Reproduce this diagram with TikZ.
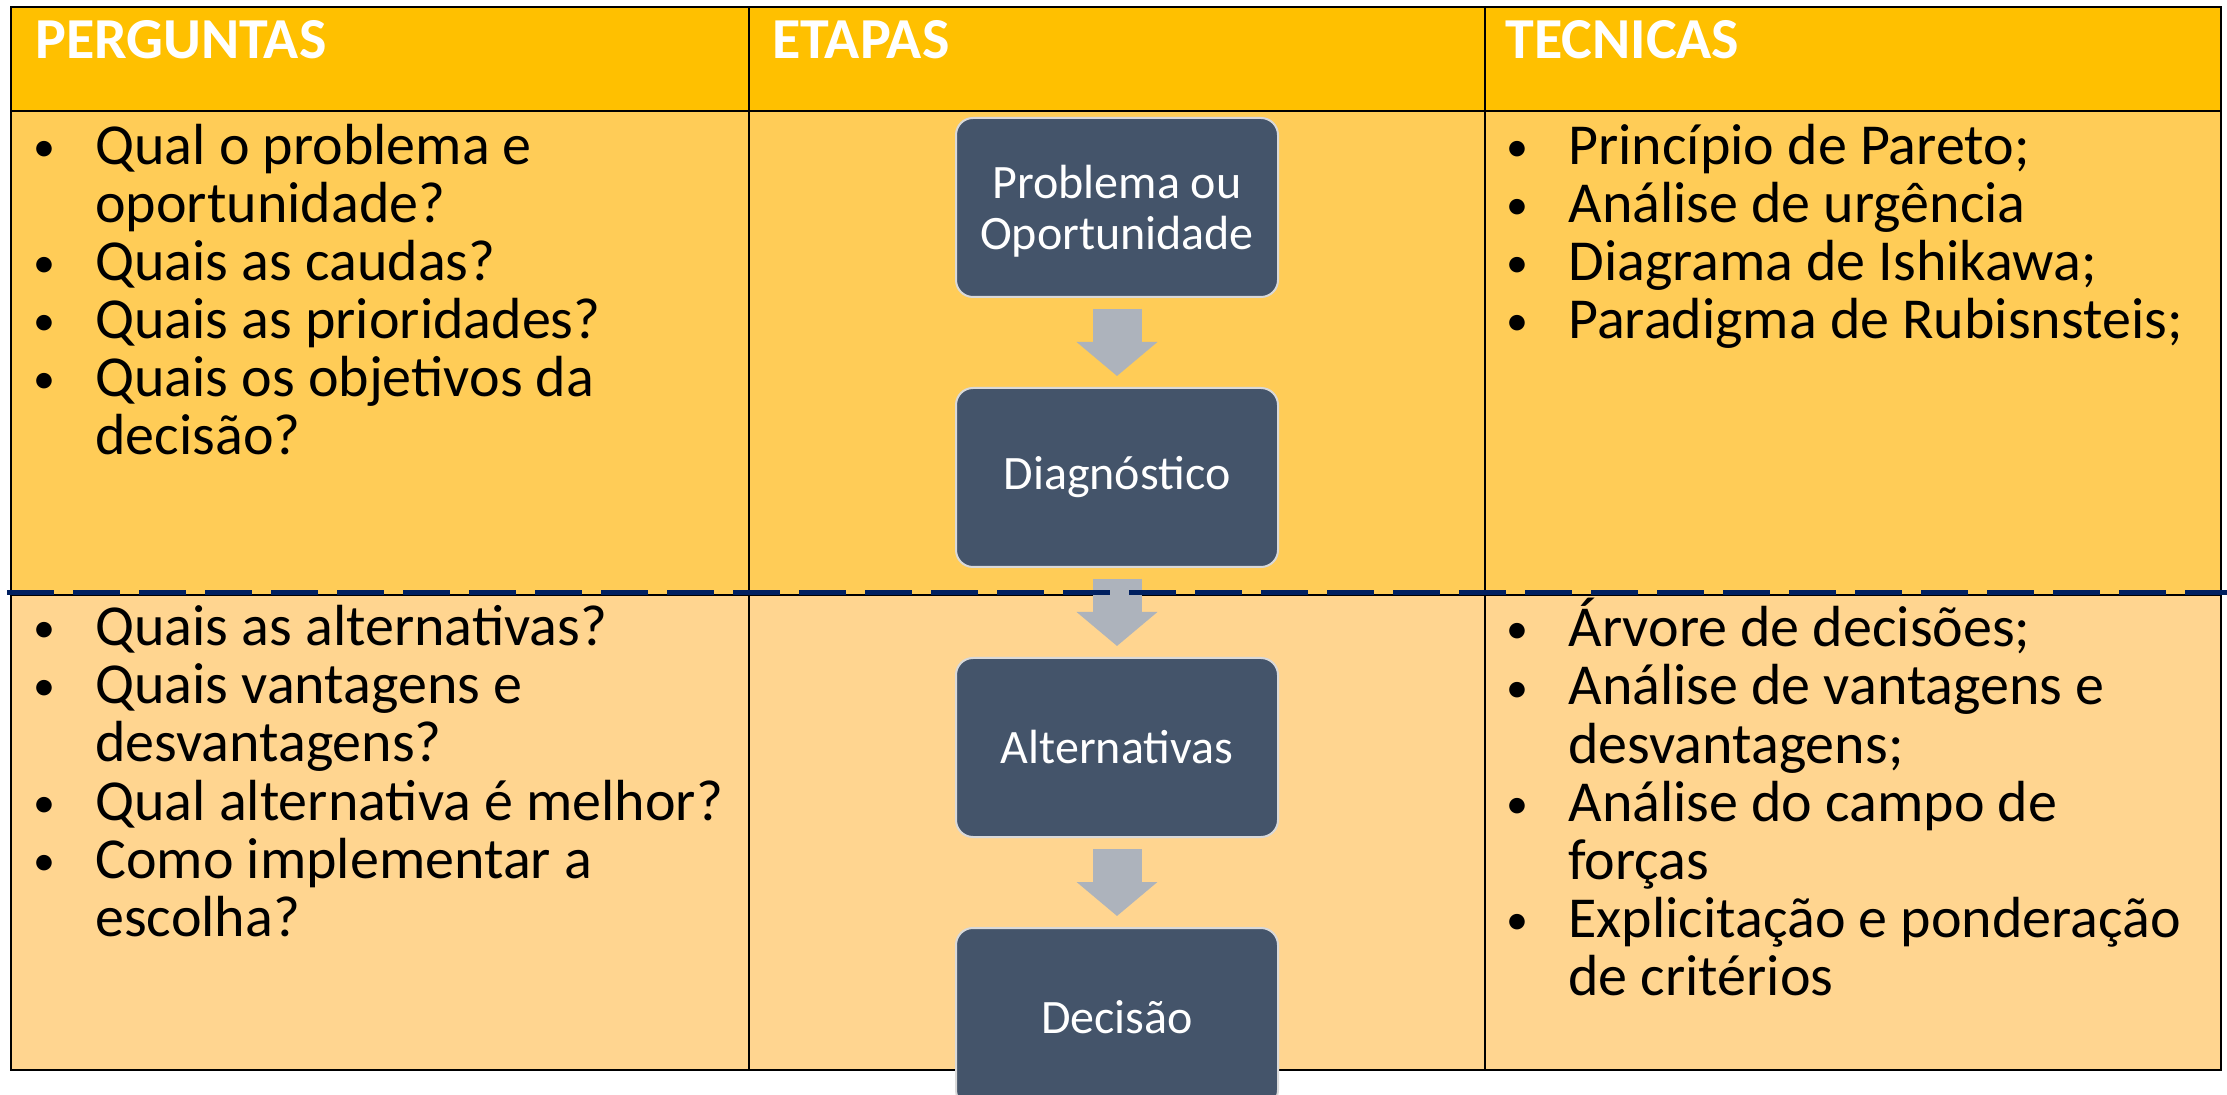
\documentclass[tikz,border=0pt]{standalone}
\usepackage{fontspec}
\setmainfont{Carlito}
\usetikzlibrary{positioning,arrows.meta}
\definecolor{hdrgold}{HTML}{FFC000}
\definecolor{rowtop}{HTML}{FFCC57}
\definecolor{rowbot}{HTML}{FFD590}
\definecolor{stepfill}{HTML}{44546A}
\definecolor{flowgray}{HTML}{ADB3BC}
\definecolor{navy}{HTML}{002060}
\newcommand\blt{\llap{\makebox[20pt][c]{\raisebox{1.5pt}{\fontsize{22}{22}\selectfont\textbullet}}\hspace{15.5pt}}}

\begin{document}
\begin{tikzpicture}[x=0.5pt,y=-0.5pt,
    head/.style={anchor=base west,inner sep=0pt,text=white,font=\fontsize{29}{29}\selectfont\bfseries},
    cell/.style={anchor=base west,inner sep=0pt,font=\fontsize{29}{29}\selectfont},
    stepbox/.style={rectangle,rounded corners=8.5pt,fill=stepfill,draw=white!85!black,line width=1pt,
      minimum width=161pt,minimum height=89.5pt,text=white,align=center,font=\fontsize{24}{25.5}\selectfont},
    flow/.style={draw=flowgray,line width=24.5pt,-{Triangle[width=39.5pt,length=17pt]}}]
        \useasboundingbox (0,0) rectangle (2227,1095);
        \fill[white] (0,0) rectangle (2227,1095);
        % table
        \fill[hdrgold] (11,7) rectangle (2221,111);
        \fill[rowtop] (11,111) rectangle (2221,595);
        \fill[rowbot] (11,595) rectangle (2221,1070);
        \draw[line width=1pt] (11,7) rectangle (2221,1070);
        \foreach \y in {111,595}
          \draw[line width=1pt] (11,\y) -- (2221,\y);
        \foreach \x in {749,1485}
          \draw[line width=1pt] (\x,7) -- (\x,1070);
        % headers
        \node[head] (hperg) at (35,59) {PERGUNTAS};
        \node[head] (hetap) at (772,59) {ETAPAS};
        \node[head] (htec) at (1505,59) {TECNICAS};
        % perguntas
        \foreach \t [count=\i] in {{\blt Qual o problema e},{oportunidade?},{\blt Quais as caudas?},
            {\blt Quais as prioridades?},{\blt Quais os objetivos da},{decisão?}}
          \node[cell] (pa\i) at (95,107+58*\i) {\t};
        \foreach \t [count=\i] in {{\blt Quais as alternativas?},{\blt Quais vantagens e},{desvantagens?},
            {\blt Qual alternativa é melhor?},{\blt Como implementar a},{escolha?}}
          \node[cell] (pb\i) at (95,588+58*\i) {\t};
        % tecnicas
        \foreach \t [count=\i] in {{\blt Princípio de Pareto;},{\blt Análise de urgência},
            {\blt Diagrama de Ishikawa;},{\blt Paradigma de Rubisnsteis;}}
          \node[cell] (ta\i) at (1568,107+58*\i) {\t};
        \foreach \t [count=\i] in {{\blt Árvore de decisões;},{\blt Análise de vantagens e},{desvantagens;},
            {\blt Análise do campo de},{forças},{\blt Explicitação e ponderação},{de critérios}}
          \node[cell] (tb\i) at (1568,589+58*\i) {\t};
        % etapas
        \node[stepbox] (prob) at (1117,207.5) {\rule{0pt}{20pt}Problema ou\\Oportunidade};
        \node[stepbox,below=44.5pt of prob] (diag) {Diagnóstico};
        \node[stepbox,below=44.5pt of diag] (alt) {Alternativas};
        \node[stepbox,below=44.5pt of alt] (dec) {Decisão};
        \foreach \a/\b in {prob/diag,diag/alt,alt/dec}
          \draw[flow] ([yshift=-5.5pt]\a.south) -- ([yshift=5.5pt]\b.north);
        \draw[navy,line width=2.5pt,dash pattern=on 23.5pt off 9.5pt] (7,593) -- (2227,593);
      \end{tikzpicture}
\end{document}
